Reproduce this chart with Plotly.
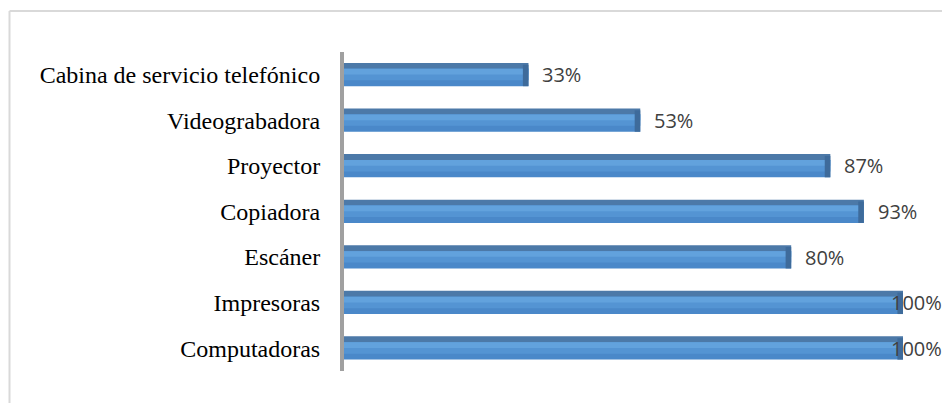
import plotly.graph_objects as go

# Equipment availability (share of schools), top to bottom
equipos = [
    "Cabina de servicio telefónico",
    "Videograbadora",
    "Proyector",
    "Copiadora",
    "Escáner",
    "Impresoras",
    "Computadoras",
]
porcentajes = [33, 53, 87, 93, 80, 100, 100]

W, H = 942, 403
ML, MR, MT, MB = 344, 39, 52, 32
PW, PH = W - ML - MR, H - MT - MB

CAP = 1.0  # width of the darker end face, in axis units

fig = go.Figure()

# top face of each 3-D bar
fig.add_trace(go.Bar(
    y=equipos, x=porcentajes, orientation="h",
    width=0.14, offset=-0.26,
    marker=dict(color="#4c79a8", line=dict(width=0)),
    hoverinfo="skip",
))

# front face: darkest layer first, lighter layers stacked from the top edge
# so the face shades from light (top) to darker (bottom)
FRONT_TOP, FRONT_H = -0.13, 0.38
capas = [("#4a88c9", 1.0), ("#5494d3", 0.66), ("#62a2dd", 0.33)]
for c, frac in capas:
    fig.add_trace(go.Bar(
        y=equipos, x=porcentajes, orientation="h",
        width=FRONT_H * frac, offset=FRONT_TOP,
        marker=dict(color=c, line=dict(width=0)),
        hoverinfo="skip",
    ))

# darker end face at the tip of each bar
fig.add_trace(go.Bar(
    y=equipos, x=[CAP] * len(porcentajes),
    base=[p - CAP for p in porcentajes], orientation="h",
    width=0.47, offset=-0.22,
    marker=dict(color="#3e6b9b", line=dict(width=0)),
    hoverinfo="skip",
))

# value labels
for eq, p in zip(equipos, porcentajes):
    fig.add_annotation(
        x=p, y=eq, xref="x", yref="y",
        text=f"{p}%", showarrow=False,
        xanchor="left", yanchor="middle",
        xshift=12 if p < 100 else -14,
        font=dict(family="Open Sans", size=20, color="#404040"),
    )


def px_x(v):
    return (v - ML) / PW


def px_y(v):
    return (MT + PH - v) / PH


# outer chart frame (top and left edges)
frame = dict(color="#d9d9d9", width=2)
fig.add_shape(type="line", xref="paper", yref="paper",
              x0=px_x(9.5), x1=px_x(W + 2), y0=px_y(11), y1=px_y(11), line=frame)
fig.add_shape(type="line", xref="paper", yref="paper",
              x0=px_x(9.5), x1=px_x(9.5), y0=px_y(11), y1=px_y(H + 2), line=frame)

fig.update_layout(
    width=W, height=H,
    margin=dict(l=ML, r=MR, t=MT, b=MB),
    paper_bgcolor="white", plot_bgcolor="white",
    barmode="overlay", showlegend=False,
    xaxis=dict(range=[0, 100], visible=False, fixedrange=True),
    yaxis=dict(
        type="category", autorange="reversed",
        showgrid=False, zeroline=False,
        showline=True, linecolor="#a0a0a0", linewidth=4,
        ticks="", ticklabelstandoff=15,
        tickfont=dict(family="Liberation Serif", size=24, color="#000000"),
    ),
)

fig.write_html("out.html")
